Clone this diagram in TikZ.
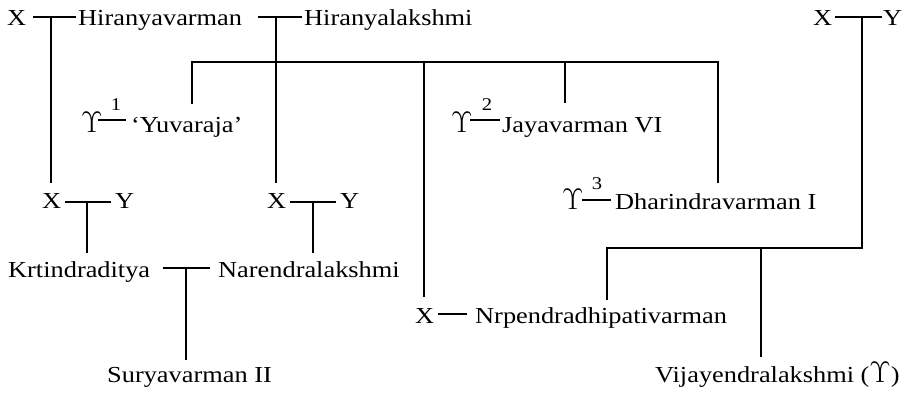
\documentclass[tikz,border=0pt]{standalone}
\usepackage{fix-cm}
\usepackage{graphicx}
\usepackage[no-math]{fontspec}
\setmainfont{Liberation Serif}[FakeStretch=1.15]
\newcommand{\ups}{\scalebox{1.3}{$\Upsilon$}}
\begin{document}
\begin{tikzpicture}[x=1bp,y=-1bp,
  lbl/.style={anchor=base west,inner sep=0pt,font=\fontsize{23}{28}\selectfont},
  sup/.style={anchor=base,inner sep=0pt,font=\fontsize{18}{22}\selectfont},
  ln/.style={line width=2.8bp}]
\useasboundingbox (0,0) rectangle (912,393);
% row 1
\node[lbl] (xa) at (7,25) {X};
\node[lbl] (hv) at (78,25) {Hiranyavarman};
\node[lbl] (hl) at (304,25) {Hiranyalakshmi};
\node[lbl] (xr) at (813,25) {X};
\node[lbl] (yr) at (883,25) {Y};
% row 2
\node[lbl] (p1) at (81,132) {\ups};
\node[sup] (n1) at (116,110) {1};
\node[lbl] (yu) at (131,132) {`Yuvaraja'};
\node[lbl] (p2) at (451,132) {\ups};
\node[sup] (n2) at (487,110) {2};
\node[lbl] (jv) at (502,132) {Jayavarman VI};
% row 3
\node[lbl] (xb) at (42,208) {X};
\node[lbl] (yb) at (115,208) {Y};
\node[lbl] (xc) at (267,208) {X};
\node[lbl] (yc) at (340,208) {Y};
\node[lbl] (p3) at (562,209) {\ups};
\node[sup] (n3) at (597,189) {3};
\node[lbl] (dv) at (615,209) {Dharindravarman I};
% row 4
\node[lbl] (kr) at (8,277) {Krtindraditya};
\node[lbl] (nl) at (218,277) {Narendralakshmi};
% row 5
\node[lbl] (xd) at (415,323) {X};
\node[lbl] (nv) at (475,323) {Nrpendradhipativarman};
% row 6
\node[lbl] (sv) at (107,382) {Suryavarman II};
\node[lbl] (vl) at (655,382) {Vijayendralakshmi (\ups)};
% junction coordinates
\coordinate (ja) at (51,17);
\coordinate (jb) at (276,17);
\coordinate (jc) at (862,17);
\coordinate (bar) at (424,62);
\coordinate (jd) at (87,202);
\coordinate (je) at (313,202);
\coordinate (jf) at (186,268);
\coordinate (jg) at (761,248);
% marriage lines
\draw[ln] (33,17) -- (76,17);
\draw[ln] (258,17) -- (302,17);
\draw[ln] (835,17) -- (882,17);
\draw[ln] (98,120) -- (126,120);
\draw[ln] (470,120) -- (500,120);
\draw[ln] (582,200) -- (611,200);
\draw[ln] (65,202) -- (111,202);
\draw[ln] (290,202) -- (336,202);
\draw[ln] (163,268) -- (210,268);
\draw[ln] (438,314) -- (467,314);
% descent lines
\draw[ln] (ja) -- (51,183);
\draw[ln] (jb) -- (276,183);
\draw[ln] (jd) -- (87,253);
\draw[ln] (je) -- (313,253);
\draw[ln] (jf) -- (186,360);
\draw[ln] (192,104) -- (192,62) -- (718,62) -- (718,183);
\draw[ln] (bar) -- (424,297);
\draw[ln] (565,62) -- (565,103);
\draw[ln] (jc) -- (862,248) -- (607,248) -- (607,300);
\draw[ln] (jg) -- (761,357);
\end{tikzpicture}
\end{document}
